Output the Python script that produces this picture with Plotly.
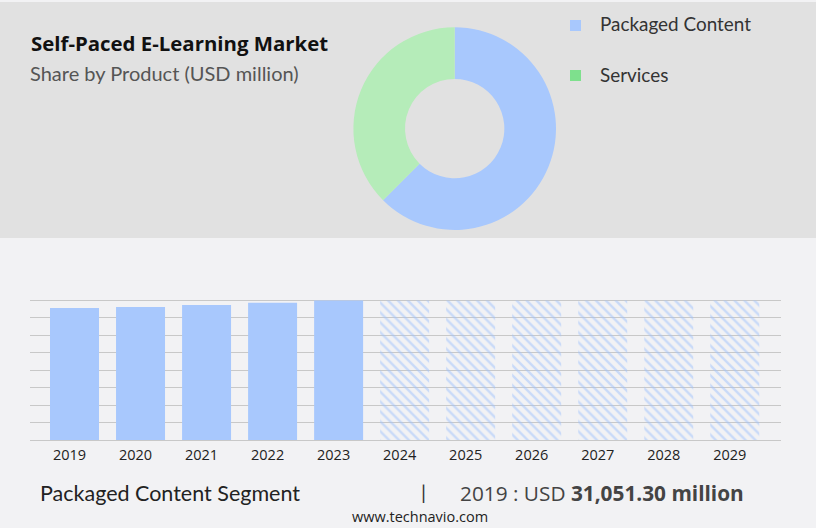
import plotly.graph_objects as go

# donut data
products = ["Packaged Content", "Services"]
shares = [62.5, 37.5]

# bar data (USD million)
years_hist = ["2019", "2020", "2021", "2022", "2023"]
values_hist = [31051.3, 31300.0, 31760.0, 32250.0, 32780.0]
years_fcst = ["2024", "2025", "2026", "2027", "2028", "2029"]
values_fcst = [32800.0, 32800.0, 32800.0, 32800.0, 32800.0, 32800.0]

W, H = 816, 528
BLUE = "#a8c8fd"
GREEN_PIE = "#b5ecb9"
GREEN_LEG = "#7ee08d"


def px(x):
    return x / W


def py(y):
    return 1 - y / H


fig = go.Figure()

fig.add_trace(go.Pie(
    labels=products, values=shares, hole=0.49, sort=False,
    direction="clockwise", rotation=0,
    marker=dict(colors=[BLUE, GREEN_PIE], line=dict(width=0)),
    textinfo="none", hoverinfo="label+percent", showlegend=False,
    domain=dict(x=[px(353.4), px(556)], y=[py(229.9), py(27.3)]),
))

fig.add_trace(go.Bar(
    x=years_hist, y=values_hist, marker=dict(color=BLUE, line=dict(width=0)),
    width=0.742, showlegend=False,
))
fig.add_trace(go.Bar(
    x=years_fcst, y=values_fcst, width=0.742, showlegend=False,
    marker=dict(color="rgba(0,0,0,0)", line=dict(width=0),
                pattern=dict(shape="\\", fgcolor="#9fc2fc", bgcolor="rgba(0,0,0,0)",
                             size=7, solidity=0.35)),
))

# 32800 sits at y=300.5 px, leave a little headroom so the top gridline shows
fig.update_xaxes(
    type="category", categoryorder="array", categoryarray=years_hist + years_fcst,
    domain=[px(30), px(781)], range=[-0.674, 10.70],
    showgrid=False, showline=False, ticks="",
    ticklabelstandoff=4, ticklabelshift=-5,
    tickfont=dict(family="Open Sans", size=14.5, color="#222"),
)
fig.update_yaxes(
    domain=[py(440), py(298.8)], range=[0, 33200],
    tick0=0, dtick=4100, showticklabels=False,
    showgrid=True, gridcolor="#c8c8c8", gridwidth=1,
    zeroline=True, zerolinecolor="#c8c8c8", zerolinewidth=1,
)

shapes = [
    dict(type="rect", xref="paper", yref="paper", x0=0, x1=1, y0=py(238), y1=py(2),
         fillcolor="#e1e1e1", line=dict(width=0), layer="below"),
    dict(type="rect", xref="paper", yref="paper", x0=px(570), x1=px(581), y0=py(31), y1=py(20),
         fillcolor=BLUE, line=dict(width=0)),
    dict(type="rect", xref="paper", yref="paper", x0=px(570), x1=px(581), y0=py(81), y1=py(70),
         fillcolor=GREEN_LEG, line=dict(width=0)),
]

annotations = [
    dict(text="<b>Self-Paced E-Learning Market</b>", x=px(29), y=py(43),
         font=dict(family="Open Sans", size=20.4, color="#111")),
    dict(text="Share by Product (USD million)", x=px(28), y=py(73),
         font=dict(family="Lato", size=20, color="#555")),
    dict(text=products[0], x=px(598), y=py(24),
         font=dict(family="Lato", size=18.9, color="#333")),
    dict(text=products[1], x=px(598), y=py(74),
         font=dict(family="Lato", size=18.9, color="#333")),
    dict(text="Packaged Content Segment", x=px(38), y=py(493),
         font=dict(family="Lato", size=21.5, color="#222")),
    dict(text="|", x=px(419), y=py(492),
         font=dict(family="Lato", size=20, color="#333")),
    dict(text="2019 : USD <b>31,051.30 million</b>", x=px(458), y=py(493),
         font=dict(family="Open Sans", size=20.8, color="#444")),
    dict(text="www.technavio.com", x=px(420), y=py(516), xanchor="center",
         font=dict(family="Open Sans", size=14.5, color="#222")),
]
for a in annotations:
    a.setdefault("xanchor", "left")
    a.update(xref="paper", yref="paper", yanchor="middle", showarrow=False)

fig.update_layout(
    width=W, height=H, margin=dict(l=0, r=0, t=0, b=0),
    paper_bgcolor="#f2f2f4", plot_bgcolor="rgba(0,0,0,0)",
    barmode="overlay", bargap=0.25,
    shapes=shapes, annotations=annotations,
)

fig.write_html("out.html", config={"displayModeBar": False},
               post_script="document.body.style.margin='0';")
